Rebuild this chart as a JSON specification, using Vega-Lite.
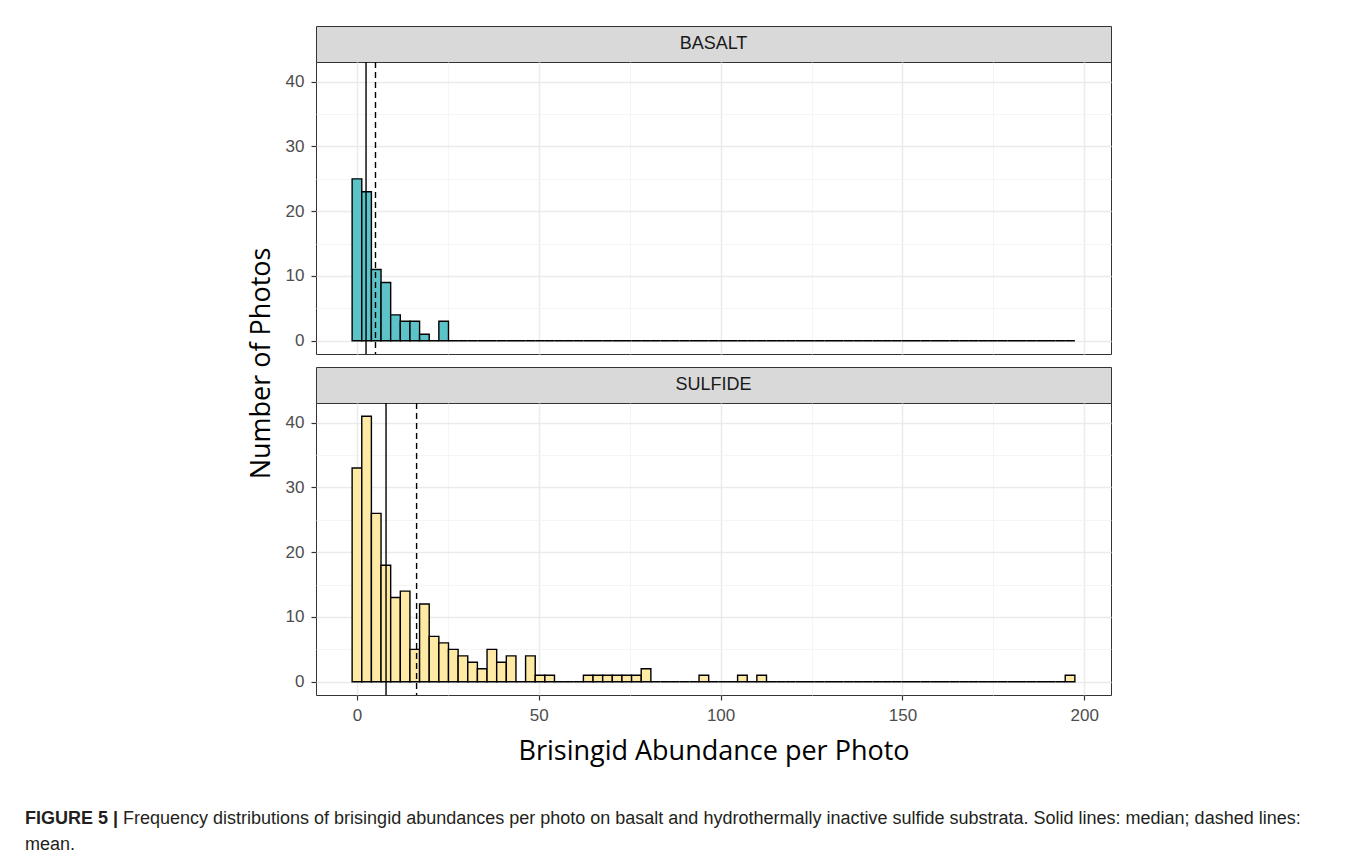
{
  "$schema": "https://vega.github.io/schema/vega-lite/v6.json",
  "background": "white",
  "padding": {"left": 25, "top": 25, "right": 10, "bottom": 0},
  "spacing": 13,
  "config": {
    "view": {"stroke": "#333333", "strokeWidth": 1},
    "axis": {
      "labelFont": "Liberation Sans",
      "labelFontSize": 17,
      "labelColor": "#4d4d4d",
      "labelOverlap": false,
      "domain": false,
      "tickColor": "#333333",
      "tickSize": 5,
      "tickWidth": 1.2,
      "labelPadding": 7,
      "gridColor": "#ebebeb",
      "titleFont": "Open Sans",
      "titleFontSize": 27,
      "titleFontWeight": "normal",
      "titleColor": "#000000"
    }
  },
  "datasets": {
    "bins": [
      {"lo": -1.325, "hi": 1.325, "basalt": 25, "sulfide": 33},
      {"lo": 1.325, "hi": 3.975, "basalt": 23, "sulfide": 41},
      {"lo": 3.975, "hi": 6.625, "basalt": 11, "sulfide": 26},
      {"lo": 6.625, "hi": 9.275, "basalt": 9, "sulfide": 18},
      {"lo": 9.275, "hi": 11.925, "basalt": 4, "sulfide": 13},
      {"lo": 11.925, "hi": 14.575, "basalt": 3, "sulfide": 14},
      {"lo": 14.575, "hi": 17.225, "basalt": 3, "sulfide": 5},
      {"lo": 17.225, "hi": 19.875, "basalt": 1, "sulfide": 12},
      {"lo": 19.875, "hi": 22.525, "basalt": 0, "sulfide": 7},
      {"lo": 22.525, "hi": 25.175, "basalt": 3, "sulfide": 6},
      {"lo": 25.175, "hi": 27.825, "basalt": 0, "sulfide": 5},
      {"lo": 27.825, "hi": 30.475, "basalt": 0, "sulfide": 4},
      {"lo": 30.475, "hi": 33.125, "basalt": 0, "sulfide": 3},
      {"lo": 33.125, "hi": 35.775, "basalt": 0, "sulfide": 2},
      {"lo": 35.775, "hi": 38.425, "basalt": 0, "sulfide": 5},
      {"lo": 38.425, "hi": 41.075, "basalt": 0, "sulfide": 3},
      {"lo": 41.075, "hi": 43.725, "basalt": 0, "sulfide": 4},
      {"lo": 43.725, "hi": 46.375, "basalt": 0, "sulfide": 0},
      {"lo": 46.375, "hi": 49.025, "basalt": 0, "sulfide": 4},
      {"lo": 49.025, "hi": 51.675, "basalt": 0, "sulfide": 1},
      {"lo": 51.675, "hi": 54.325, "basalt": 0, "sulfide": 1},
      {"lo": 54.325, "hi": 56.975, "basalt": 0, "sulfide": 0},
      {"lo": 56.975, "hi": 59.625, "basalt": 0, "sulfide": 0},
      {"lo": 59.625, "hi": 62.275, "basalt": 0, "sulfide": 0},
      {"lo": 62.275, "hi": 64.925, "basalt": 0, "sulfide": 1},
      {"lo": 64.925, "hi": 67.575, "basalt": 0, "sulfide": 1},
      {"lo": 67.575, "hi": 70.225, "basalt": 0, "sulfide": 1},
      {"lo": 70.225, "hi": 72.875, "basalt": 0, "sulfide": 1},
      {"lo": 72.875, "hi": 75.525, "basalt": 0, "sulfide": 1},
      {"lo": 75.525, "hi": 78.175, "basalt": 0, "sulfide": 1},
      {"lo": 78.175, "hi": 80.825, "basalt": 0, "sulfide": 2},
      {"lo": 80.825, "hi": 83.475, "basalt": 0, "sulfide": 0},
      {"lo": 83.475, "hi": 86.125, "basalt": 0, "sulfide": 0},
      {"lo": 86.125, "hi": 88.775, "basalt": 0, "sulfide": 0},
      {"lo": 88.775, "hi": 91.425, "basalt": 0, "sulfide": 0},
      {"lo": 91.425, "hi": 94.075, "basalt": 0, "sulfide": 0},
      {"lo": 94.075, "hi": 96.725, "basalt": 0, "sulfide": 1},
      {"lo": 96.725, "hi": 99.375, "basalt": 0, "sulfide": 0},
      {"lo": 99.375, "hi": 102.025, "basalt": 0, "sulfide": 0},
      {"lo": 102.025, "hi": 104.675, "basalt": 0, "sulfide": 0},
      {"lo": 104.675, "hi": 107.325, "basalt": 0, "sulfide": 1},
      {"lo": 107.325, "hi": 109.975, "basalt": 0, "sulfide": 0},
      {"lo": 109.975, "hi": 112.625, "basalt": 0, "sulfide": 1},
      {"lo": 112.625, "hi": 115.275, "basalt": 0, "sulfide": 0},
      {"lo": 115.275, "hi": 117.925, "basalt": 0, "sulfide": 0},
      {"lo": 117.925, "hi": 120.575, "basalt": 0, "sulfide": 0},
      {"lo": 120.575, "hi": 123.225, "basalt": 0, "sulfide": 0},
      {"lo": 123.225, "hi": 125.875, "basalt": 0, "sulfide": 0},
      {"lo": 125.875, "hi": 128.525, "basalt": 0, "sulfide": 0},
      {"lo": 128.525, "hi": 131.175, "basalt": 0, "sulfide": 0},
      {"lo": 131.175, "hi": 133.825, "basalt": 0, "sulfide": 0},
      {"lo": 133.825, "hi": 136.475, "basalt": 0, "sulfide": 0},
      {"lo": 136.475, "hi": 139.125, "basalt": 0, "sulfide": 0},
      {"lo": 139.125, "hi": 141.775, "basalt": 0, "sulfide": 0},
      {"lo": 141.775, "hi": 144.425, "basalt": 0, "sulfide": 0},
      {"lo": 144.425, "hi": 147.075, "basalt": 0, "sulfide": 0},
      {"lo": 147.075, "hi": 149.725, "basalt": 0, "sulfide": 0},
      {"lo": 149.725, "hi": 152.375, "basalt": 0, "sulfide": 0},
      {"lo": 152.375, "hi": 155.025, "basalt": 0, "sulfide": 0},
      {"lo": 155.025, "hi": 157.675, "basalt": 0, "sulfide": 0},
      {"lo": 157.675, "hi": 160.325, "basalt": 0, "sulfide": 0},
      {"lo": 160.325, "hi": 162.975, "basalt": 0, "sulfide": 0},
      {"lo": 162.975, "hi": 165.625, "basalt": 0, "sulfide": 0},
      {"lo": 165.625, "hi": 168.275, "basalt": 0, "sulfide": 0},
      {"lo": 168.275, "hi": 170.925, "basalt": 0, "sulfide": 0},
      {"lo": 170.925, "hi": 173.575, "basalt": 0, "sulfide": 0},
      {"lo": 173.575, "hi": 176.225, "basalt": 0, "sulfide": 0},
      {"lo": 176.225, "hi": 178.875, "basalt": 0, "sulfide": 0},
      {"lo": 178.875, "hi": 181.525, "basalt": 0, "sulfide": 0},
      {"lo": 181.525, "hi": 184.175, "basalt": 0, "sulfide": 0},
      {"lo": 184.175, "hi": 186.825, "basalt": 0, "sulfide": 0},
      {"lo": 186.825, "hi": 189.475, "basalt": 0, "sulfide": 0},
      {"lo": 189.475, "hi": 192.125, "basalt": 0, "sulfide": 0},
      {"lo": 192.125, "hi": 194.775, "basalt": 0, "sulfide": 0},
      {"lo": 194.775, "hi": 197.425, "basalt": 0, "sulfide": 1}
    ],
    "stats": [
      {"substrate": "BASALT", "stat": "median", "value": 2.5},
      {"substrate": "BASALT", "stat": "mean", "value": 5.1},
      {"substrate": "SULFIDE", "stat": "median", "value": 8},
      {"substrate": "SULFIDE", "stat": "mean", "value": 16.4}
    ]
  },
  "vconcat": [
    {
      "bounds": "flush",
      "spacing": 0,
      "vconcat": [
        {
          "width": 795,
          "height": 36,
          "view": {"fill": "#d9d9d9", "stroke": "#333333"},
          "data": {"values": [{"label": "BASALT"}]},
          "mark": {"type": "text", "font": "Liberation Sans", "fontSize": 18, "color": "#1a1a1a", "baseline": "middle"},
          "encoding": {"text": {"field": "label", "type": "nominal"}}
        },
        {
          "width": 795,
          "height": 292,
          "layer": [
            {
              "data": {"name": "bins"},
              "mark": {"type": "bar", "fill": "#5cc4c9", "stroke": "#000000", "strokeWidth": 1.4},
              "encoding": {
                "x": {
                  "field": "lo", "type": "quantitative",
                  "scale": {"domain": [-11.26, 207.36], "nice": false, "zero": false},
                  "axis": {
                    "title": null, "labels": false, "ticks": false,
                    "values": [0, 25, 50, 75, 100, 125, 150, 175, 200],
                    "gridWidth": {"condition": {"test": "datum.value % 50 === 0", "value": 1.5}, "value": 0.8},
                    "gridColor": {"condition": {"test": "datum.value % 50 === 0", "value": "#ebebeb"}, "value": "#f2f2f2"}
                  }
                },
                "x2": {"field": "hi"},
                "y": {
                  "field": "basalt", "type": "quantitative",
                  "scale": {"domain": [-2.05, 43.05], "nice": false, "zero": false},
                  "axis": {
                    "title": null,
                    "values": [0, 5, 10, 15, 20, 25, 30, 35, 40],
                    "labelExpr": "datum.value % 10 === 0 ? datum.label : ''",
                    "tickOpacity": {"condition": {"test": "datum.value % 10 === 0", "value": 1}, "value": 0},
                    "gridWidth": {"condition": {"test": "datum.value % 10 === 0", "value": 1.5}, "value": 0.8},
                    "gridColor": {"condition": {"test": "datum.value % 10 === 0", "value": "#ebebeb"}, "value": "#f2f2f2"}
                  }
                },
                "y2": {"datum": 0}
              }
            },
            {
              "data": {"name": "stats"},
              "transform": [{"filter": "datum.substrate === 'BASALT'"}],
              "mark": {"type": "rule", "color": "#000000", "strokeWidth": 1.4},
              "encoding": {
                "x": {
                  "field": "value", "type": "quantitative",
                  "scale": {"domain": [-11.26, 207.36], "nice": false, "zero": false},
                  "axis": {
                    "title": null, "labels": false, "ticks": false,
                    "values": [0, 25, 50, 75, 100, 125, 150, 175, 200],
                    "gridWidth": {"condition": {"test": "datum.value % 50 === 0", "value": 1.5}, "value": 0.8},
                    "gridColor": {"condition": {"test": "datum.value % 50 === 0", "value": "#ebebeb"}, "value": "#f2f2f2"}
                  }
                },
                "strokeDash": {"field": "stat", "type": "nominal", "scale": {"domain": ["median", "mean"], "range": [[1, 0], [6, 4]]}, "legend": null}
              }
            }
          ]
        },
        {
          "width": 795,
          "height": 13,
          "view": {"stroke": null},
          "data": {"values": [{"label": ""}]},
          "mark": {"type": "text"},
          "encoding": {"text": {"field": "label", "type": "nominal"}}
        },
        {
          "width": 795,
          "height": 36,
          "view": {"fill": "#d9d9d9", "stroke": "#333333"},
          "data": {"values": [{"label": "SULFIDE"}]},
          "mark": {"type": "text", "font": "Liberation Sans", "fontSize": 18, "color": "#1a1a1a", "baseline": "middle"},
          "encoding": {"text": {"field": "label", "type": "nominal"}}
        },
        {
          "width": 795,
          "height": 292,
          "layer": [
            {
              "data": {"name": "bins"},
              "mark": {"type": "bar", "fill": "#fee9a5", "stroke": "#000000", "strokeWidth": 1.4},
              "encoding": {
                "x": {
                  "field": "lo", "type": "quantitative",
                  "scale": {"domain": [-11.26, 207.36], "nice": false, "zero": false},
                  "axis": {
                    "title": "Brisingid Abundance per Photo",
                    "titlePadding": 15,
                    "values": [0, 25, 50, 75, 100, 125, 150, 175, 200],
                    "labelExpr": "datum.value % 50 === 0 ? datum.label : ''",
                    "tickOpacity": {"condition": {"test": "datum.value % 50 === 0", "value": 1}, "value": 0},
                    "gridWidth": {"condition": {"test": "datum.value % 50 === 0", "value": 1.5}, "value": 0.8},
                    "gridColor": {"condition": {"test": "datum.value % 50 === 0", "value": "#ebebeb"}, "value": "#f2f2f2"}
                  }
                },
                "x2": {"field": "hi"},
                "y": {
                  "field": "sulfide", "type": "quantitative",
                  "scale": {"domain": [-2.05, 43.05], "nice": false, "zero": false},
                  "axis": {
                    "title": "Number of Photos",
                    "titleX": -47,
                    "titleY": -40,
                    "titleBaseline": "alphabetic",
                    "values": [0, 5, 10, 15, 20, 25, 30, 35, 40],
                    "labelExpr": "datum.value % 10 === 0 ? datum.label : ''",
                    "tickOpacity": {"condition": {"test": "datum.value % 10 === 0", "value": 1}, "value": 0},
                    "gridWidth": {"condition": {"test": "datum.value % 10 === 0", "value": 1.5}, "value": 0.8},
                    "gridColor": {"condition": {"test": "datum.value % 10 === 0", "value": "#ebebeb"}, "value": "#f2f2f2"}
                  }
                },
                "y2": {"datum": 0}
              }
            },
            {
              "data": {"name": "stats"},
              "transform": [{"filter": "datum.substrate === 'SULFIDE'"}],
              "mark": {"type": "rule", "color": "#000000", "strokeWidth": 1.4},
              "encoding": {
                "x": {
                  "field": "value", "type": "quantitative",
                  "scale": {"domain": [-11.26, 207.36], "nice": false, "zero": false},
                  "axis": {
                    "title": "Brisingid Abundance per Photo",
                    "titlePadding": 15,
                    "values": [0, 25, 50, 75, 100, 125, 150, 175, 200],
                    "labelExpr": "datum.value % 50 === 0 ? datum.label : ''",
                    "tickOpacity": {"condition": {"test": "datum.value % 50 === 0", "value": 1}, "value": 0},
                    "gridWidth": {"condition": {"test": "datum.value % 50 === 0", "value": 1.5}, "value": 0.8},
                    "gridColor": {"condition": {"test": "datum.value % 50 === 0", "value": "#ebebeb"}, "value": "#f2f2f2"}
                  }
                },
                "strokeDash": {"field": "stat", "type": "nominal", "scale": {"domain": ["median", "mean"], "range": [[1, 0], [6, 4]]}, "legend": null}
              }
            }
          ]
        }
      ]
    },
    {
      "width": 795,
      "height": 80,
      "view": {"stroke": null},
      "layer": [
        {
          "data": {"values": [{"t": "FIGURE 5 |"}]},
          "mark": {"type": "text", "font": "Liberation Sans", "fontSize": 18, "fontWeight": "bold", "color": "#231f20", "align": "left", "baseline": "middle", "dx": -688.5, "dy": 1},
          "encoding": {"text": {"field": "t", "type": "nominal"}}
        },
        {
          "data": {"values": [{"t": "Frequency distributions of brisingid abundances per photo on basalt and hydrothermally inactive sulfide substrata. Solid lines: median; dashed lines:"}]},
          "mark": {"type": "text", "font": "Liberation Sans", "fontSize": 18, "color": "#231f20", "align": "left", "baseline": "middle", "dx": -590.5, "dy": 1},
          "encoding": {"text": {"field": "t", "type": "nominal"}}
        },
        {
          "data": {"values": [{"t": "mean."}]},
          "mark": {"type": "text", "font": "Liberation Sans", "fontSize": 18, "color": "#231f20", "align": "left", "baseline": "middle", "dx": -688.5, "dy": 27},
          "encoding": {"text": {"field": "t", "type": "nominal"}}
        }
      ]
    }
  ]
}
